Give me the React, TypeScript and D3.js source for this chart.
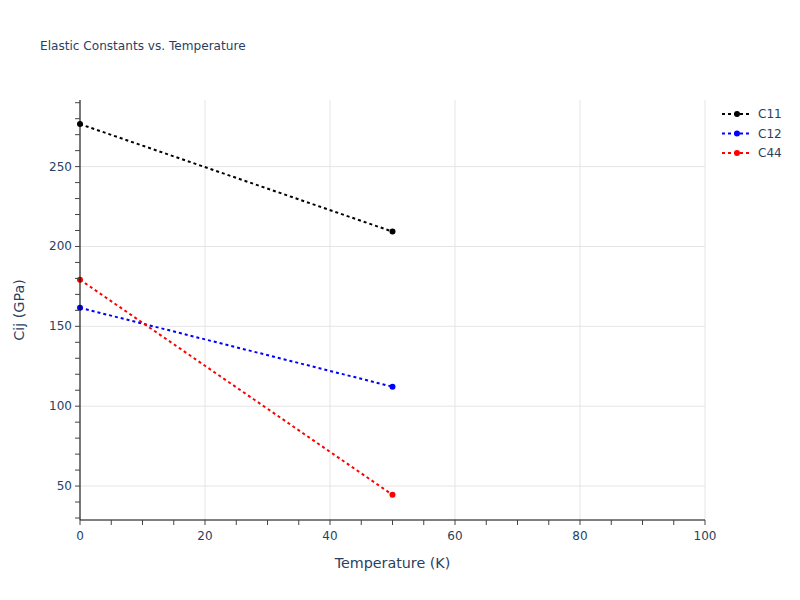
import React from "react";
import * as d3 from "d3";

const temps = [0, 50];
const c11 = [276.6, 209.3];
const c12 = [161.6, 112.2];
const c44 = [179.2, 44.5];
const seriesNames = ["C11", "C12", "C44"];
const seriesColors = ["#000000", "#0000ff", "#ff0000"];
const xTicks = [0, 20, 40, 60, 80, 100];
const yTicks = [50, 100, 150, 200, 250];

export default function App() {
  const W = 800, H = 600;
  const m = { l: 80, r: 95, t: 100, b: 80 };
  const x = d3.scaleLinear().domain([0, 100]).range([m.l, W - m.r]);
  const y = d3.scaleLinear().domain([28.75, 291.7]).range([H - m.b, m.t]);
  const data = [c11, c12, c44];
  const line = d3.line<number>().x((_, i) => x(temps[i])).y((d) => y(d));
  const minorX = d3.range(0, 101, 5);
  const minorY = d3.range(30, 291, 10);
  const font = "'DejaVu Sans', Verdana, sans-serif";
  const textColor = "#2a3f5f";
  return (
    <svg width={W} height={H} style={{ display: "block", position: "absolute", left: 0, top: 0 }} fontFamily={font}>
      <rect width={W} height={H} fill="#fff" />
      {xTicks.map((t) => (
        <line key={"gx" + t} x1={x(t)} x2={x(t)} y1={m.t} y2={H - m.b} stroke="#e5e5e5" strokeWidth={1} />
      ))}
      {yTicks.map((t) => (
        <line key={"gy" + t} x1={m.l} x2={W - m.r} y1={y(t)} y2={y(t)} stroke="#e5e5e5" strokeWidth={1} />
      ))}
      {data.map((d, k) => (
        <g key={k}>
          <path d={line(d) || ""} fill="none" stroke={seriesColors[k]} strokeWidth={2} strokeDasharray="3,3" />
          {d.map((v, i) => (
            <circle key={i} cx={x(temps[i])} cy={y(v)} r={3} fill={seriesColors[k]} />
          ))}
        </g>
      ))}
      <line x1={m.l} x2={W - m.r} y1={H - m.b} y2={H - m.b} stroke="#000" strokeWidth={1} />
      <line x1={m.l} x2={m.l} y1={m.t} y2={H - m.b} stroke="#000" strokeWidth={1} />
      {minorX.map((t) => (
        <line key={"tx" + t} x1={x(t)} x2={x(t)} y1={H - m.b} y2={H - m.b + 5} stroke="#444" strokeWidth={1} />
      ))}
      {minorY.map((t) => (
        <line key={"ty" + t} x1={m.l - 5} x2={m.l} y1={y(t)} y2={y(t)} stroke="#444" strokeWidth={1} />
      ))}
      {xTicks.map((t) => (
        <text key={"lx" + t} x={x(t)} y={H - m.b + 20} textAnchor="middle" fontSize={12} fill={textColor}>{t}</text>
      ))}
      {yTicks.map((t) => (
        <text key={"ly" + t} x={m.l - 8} y={y(t) + 4} textAnchor="end" fontSize={12} fill={textColor}>{t}</text>
      ))}
      <text x={(m.l + W - m.r) / 2} y={568} textAnchor="middle" fontSize={14.3} fill={textColor}>Temperature (K)</text>
      <text transform={`translate(24,${(m.t + H - m.b) / 2}) rotate(-90)`} textAnchor="middle" fontSize={14.3} fill={textColor}>Cij (GPa)</text>
      <text x={40} y={50} fontSize={12.1} fill={textColor}>Elastic Constants vs. Temperature</text>
      {seriesNames.map((n, k) => (
        <g key={n} transform={`translate(722,${114 + k * 19.5})`}>
          <line x1={0} x2={30} y1={0} y2={0} stroke={seriesColors[k]} strokeWidth={2} strokeDasharray="3,3" />
          <circle cx={15} cy={0} r={3} fill={seriesColors[k]} />
          <text x={36} y={4} fontSize={12} fill={textColor}>{n}</text>
        </g>
      ))}
    </svg>
  );
}
